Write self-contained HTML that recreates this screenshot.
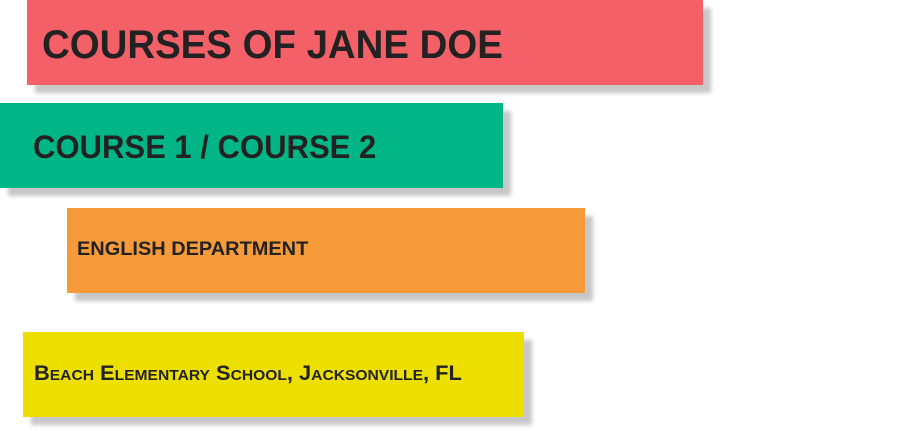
<!DOCTYPE html>
<html><head><style>
html,body{margin:0;padding:0;width:905px;height:431px;background:#fff;overflow:hidden;position:relative;font-family:"Liberation Sans",sans-serif;}
.b{position:absolute;box-shadow:8px 8px 4px rgba(0,0,0,0.22);}
.t{position:absolute;white-space:nowrap;color:#222;font-weight:bold;text-transform:uppercase;transform-origin:0 0;}
</style></head><body>
<div class="b" style="left:27px;top:0;width:676px;height:85px;background:#f46068"></div>
<div class="b" style="left:0;top:103px;width:503px;height:85px;background:#00b686"></div>
<div class="b" style="left:67px;top:208px;width:518px;height:85px;background:#f79a3a"></div>
<div class="b" style="left:23px;top:332px;width:501px;height:85px;background:#ede000"></div>
<div class="t" style="left:42px;top:25px;font-size:40px;line-height:40px;transform:scaleX(0.96)">Courses of Jane Doe</div>
<div class="t" style="left:33px;top:131px;font-size:32px;line-height:32px;transform:scaleX(0.97)">Course 1 / Course 2</div>
<div class="t" style="left:77px;top:240px;font-size:19px;line-height:19px;transform:scaleX(1.05)">English Department</div>
<div class="t" style="left:34px;top:363px;font-size:21px;line-height:21px;text-transform:none;font-variant:small-caps;transform:scaleX(1.04)">Beach Elementary School, Jacksonville, FL</div>
</body></html>
